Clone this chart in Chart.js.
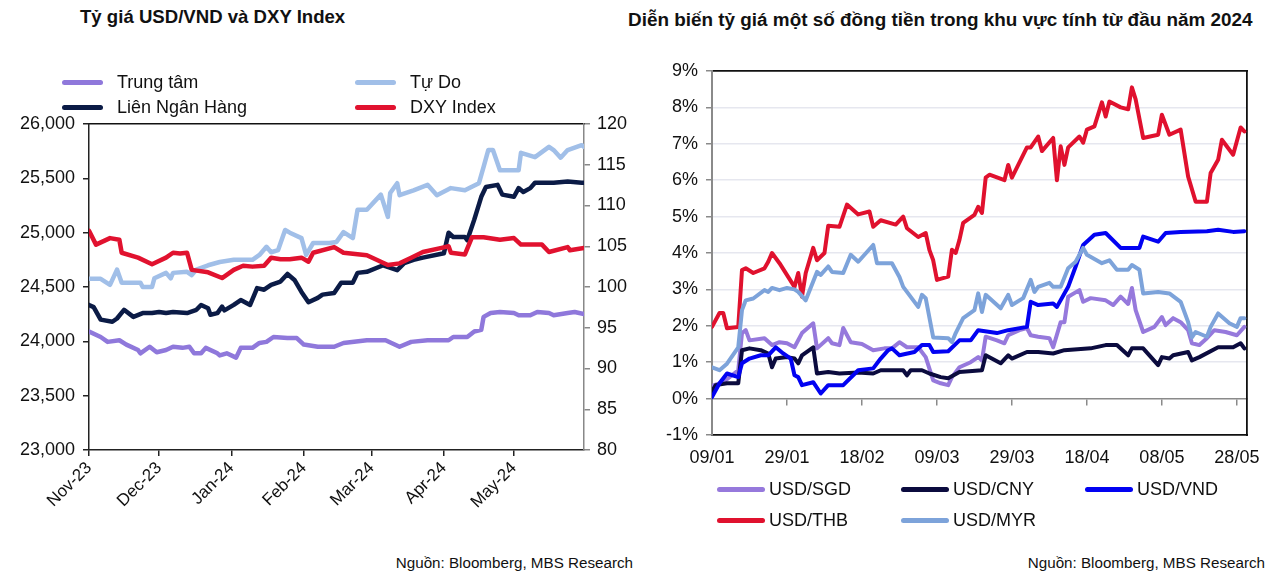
<!DOCTYPE html>
<html>
<head>
<meta charset="utf-8">
<script src="https://cdn.jsdelivr.net/npm/chart.js@4.4.1/dist/chart.umd.min.js"></script>
<style>
  html,body{margin:0;padding:0;background:#fff;width:1280px;height:575px;overflow:hidden;font-family:'Liberation Sans',Arial,sans-serif;color:#111;}
  canvas{position:absolute;top:0;}
  .title{position:absolute;font-weight:bold;white-space:nowrap;line-height:22px;}
  .src{position:absolute;font-size:15.2px;white-space:nowrap;line-height:20px;text-align:right;}
  .leg{position:absolute;display:grid;}
  .item{display:flex;align-items:center;font-size:18px;white-space:nowrap;}
  .sw{display:inline-block;height:5px;border-radius:3px;}
</style>
</head>
<body>
<div class="title" style="left:80px;top:6px;font-size:18.6px;">Tỷ giá USD/VND và DXY Index</div>
<div class="title" style="left:628px;top:9px;font-size:18.9px;">Diễn biến tỷ giá một số đồng tiền trong khu vực tính từ đầu năm 2024</div>
<canvas id="cL" width="640" height="540" style="left:0;"></canvas>
<canvas id="cR" width="640" height="540" style="left:640px;"></canvas>
<div id="legL" class="leg" style="left:62px;top:70px;grid-template-columns:293px 293px;grid-auto-rows:25px;"></div>
<div id="legR" class="leg" style="left:717px;top:474px;grid-template-columns:184px 184px 184px;grid-auto-rows:31px;"></div>
<div class="src" style="right:647px;top:553px;">Nguồn: Bloomberg, MBS Research</div>
<div class="src" style="right:15px;top:553px;">Nguồn: Bloomberg, MBS Research</div>
<script>
// ---------- Left chart: USD/VND rates and DXY (x = days since 01/11/2023) ----------
const monthTickDays = [0, 30, 61, 92, 121, 152, 182];
const monthLabels = ['Nov-23', 'Dec-23', 'Jan-24', 'Feb-24', 'Mar-24', 'Apr-24', 'May-24'];

const trungTamDays = [0,5,8,13,16,21,22,26,29,33,36,40,43,45,48,50,55,56,59,63,65,70,73,76,79,85,89,92,98,105,109,119,127,133,138,145,154,156,162,165,168,169,172,176,182,184,189,192,197,199,205,208,212];
const trungTam = [24090,24040,23995,24010,23970,23920,23890,23950,23900,23920,23950,23940,23950,23890,23890,23940,23890,23870,23890,23850,23940,23940,23985,23995,24040,24030,24030,23970,23950,23950,23985,24010,24010,23950,23995,24010,24010,24040,24040,24090,24105,24225,24260,24270,24260,24240,24240,24270,24260,24240,24260,24270,24250];

const tuDoDays = [0,5,9,12,14,22,23,27,28,33,35,36,42,44,46,51,56,62,70,73,76,78,81,84,86,91,93,96,103,106,109,113,115,119,125,128,129,132,133,139,145,149,155,161,167,169,171,173,176,184,185,191,197,199,202,205,211,212];
const tuDo = [24575,24575,24520,24660,24540,24540,24500,24500,24580,24630,24580,24630,24640,24610,24660,24700,24730,24750,24750,24795,24870,24820,24840,25025,25000,24950,24795,24905,24905,24915,25005,24950,25210,25210,25350,25145,25365,25455,25345,25390,25440,25345,25410,25390,25455,25605,25760,25760,25575,25575,25735,25695,25790,25760,25690,25760,25805,25790];

const lienNHDays = [0,2,5,10,12,15,19,23,27,30,33,36,42,46,48,51,52,55,57,58,62,65,69,72,75,78,82,85,88,91,94,98,100,105,108,113,115,119,126,132,135,139,143,152,154,156,161,162,165,168,170,175,177,182,184,186,189,191,199,205,211,212];
const lienNH = [24335,24315,24200,24180,24210,24290,24225,24260,24260,24270,24260,24270,24260,24290,24335,24305,24245,24260,24320,24285,24335,24380,24335,24490,24475,24520,24550,24620,24565,24455,24360,24400,24430,24445,24540,24540,24630,24640,24700,24655,24720,24750,24770,24810,25000,24960,24960,24930,25120,25330,25420,25440,25350,25330,25410,25375,25410,25460,25460,25470,25460,25460];

const dxyDays = [0,3,9,13,14,21,27,33,36,39,42,44,51,57,62,66,70,75,78,82,86,91,94,96,105,109,119,128,133,138,143,151,154,155,161,164,169,176,182,185,194,197,205,206,212];
const dxy = [106.9,105.2,106.0,105.8,104.2,103.6,102.8,103.6,104.2,104.1,104.2,102.1,101.8,101.1,102.1,102.6,102.5,102.6,103.6,103.4,103.4,103.6,103.1,104.2,104.9,104.2,103.9,102.7,102.9,103.6,104.3,104.8,105.0,104.2,104.0,106.1,106.1,105.8,106.0,105.2,105.2,104.3,104.9,104.5,104.8];

// ---------- Right chart: % change since start of 2024 (x = days since 09/01/2024) ----------
const dayTicks = [0, 20, 40, 60, 80, 100, 120, 140];
const dayLabels = ['09/01', '29/01', '18/02', '09/03', '29/03', '18/04', '08/05', '28/05'];

const sgdDays = [0,3,7,8,9,10,14,16,18,20,22,24,27,28,31,32,34,35,37,40,43,46,48,50,52,55,57,59,61,63,64,66,69,71,72,73,76,78,79,82,84,85,87,90,91,93,94,95,98,99,101,105,107,109,111,112,113,115,118,120,121,123,125,127,128,130,132,134,137,140,142];
const sgd = [0.35,0.45,0.78,1.8,1.88,1.6,1.66,1.47,1.55,1.52,1.41,1.8,2.07,1.38,1.66,1.52,1.47,1.94,1.55,1.5,1.33,1.38,1.38,1.55,1.41,1.41,1.14,0.5,0.42,0.37,0.59,0.86,1.0,1.14,1.05,1.7,1.6,1.52,1.74,1.88,1.94,1.74,1.7,1.66,1.41,2.1,2.1,2.8,2.98,2.66,2.76,2.7,2.57,2.8,2.6,3.04,2.43,1.83,1.97,2.24,2.02,2.21,2.1,1.88,1.52,1.47,1.66,1.88,1.83,1.74,1.97];

const cnyDays = [0,1,4,7,8,10,13,15,16,17,20,22,23,24,27,28,31,34,39,43,45,51,52,53,56,58,61,63,66,72,73,77,79,80,84,87,91,94,101,105,108,111,112,115,119,120,122,123,127,128,130,135,139,141,142];
const cny = [0.2,0.37,0.42,0.42,1.33,1.38,1.33,1.24,0.86,1.1,1.14,1.1,0.97,1.19,1.41,0.69,0.73,0.69,0.72,0.69,0.78,0.78,0.64,0.78,0.78,0.69,0.59,0.56,0.73,0.78,1.19,0.97,1.19,1.1,1.28,1.28,1.24,1.33,1.38,1.47,1.47,1.19,1.38,1.38,0.92,1.14,1.1,1.19,1.28,1.05,1.14,1.41,1.41,1.52,1.38];

const vndDays = [0,2,4,7,8,10,13,15,17,19,21,22,23,24,27,29,31,35,39,43,45,47,48,50,54,56,58,59,63,66,69,71,76,79,84,85,87,91,92,95,97,99,102,105,109,114,115,119,121,125,132,135,139,142];
const vnd = [0.04,0.42,0.69,0.59,0.97,1.1,1.19,1.19,1.41,1.24,1.1,0.64,0.59,0.37,0.45,0.14,0.37,0.37,0.78,0.83,1.1,1.33,1.38,1.19,1.28,1.47,1.47,1.28,1.3,1.6,1.6,1.88,1.8,1.88,1.97,2.66,2.57,2.61,2.52,3.07,3.63,4.22,4.5,4.55,4.14,4.14,4.45,4.31,4.55,4.58,4.6,4.64,4.58,4.6];

const thbDays = [0,2,3,4,7,8,9,11,14,15,16,18,22,23,24,25,27,28,30,31,34,36,39,42,43,45,49,51,52,55,57,58,59,60,63,64,65,66,67,70,71,72,73,74,78,79,80,84,85,87,88,91,92,93,94,95,98,99,100,102,104,105,106,109,111,112,113,115,119,120,122,125,127,129,132,133,135,136,139,141,142];
const thb = [1.97,2.35,2.35,1.93,1.97,3.53,3.58,3.45,3.58,3.76,4.0,3.72,3.07,3.45,2.8,3.45,4.14,3.8,4.0,4.75,4.72,5.33,5.06,5.14,4.72,4.9,4.78,5.0,4.68,4.44,4.55,4.08,3.8,3.26,3.35,4.09,4.0,4.36,4.83,5.05,5.27,5.1,6.07,6.15,6.0,6.42,6.07,6.9,6.9,7.2,6.8,7.16,6.0,6.93,6.42,6.9,7.2,7.03,7.39,7.48,8.14,7.75,8.16,8.0,7.95,8.55,8.22,7.16,7.25,7.8,7.25,7.39,6.1,5.41,5.41,6.2,6.56,7.11,6.7,7.45,7.34];

const myrDays = [0,2,4,7,8,9,11,14,15,16,18,20,22,23,25,28,29,31,32,35,37,39,43,44,48,50,51,55,56,57,59,63,64,65,67,70,71,72,73,77,79,80,83,85,86,87,90,91,93,95,97,99,100,104,106,108,111,112,114,115,119,122,125,127,128,129,132,133,135,138,140,141,142];
const myr = [0.86,0.78,0.96,1.41,2.43,2.7,2.75,2.98,2.93,3.04,2.98,3.04,3.0,2.93,2.7,3.48,3.4,3.63,3.48,3.45,3.95,3.76,4.22,3.72,3.72,3.34,3.07,2.52,2.85,2.76,1.68,1.66,1.55,1.8,2.21,2.43,2.89,2.38,2.85,2.48,2.85,2.57,2.76,3.26,2.93,3.07,3.18,3.07,3.07,3.58,3.76,4.14,3.95,3.72,3.8,3.54,3.54,3.67,3.54,2.89,2.93,2.89,2.66,2.1,1.68,1.83,1.7,1.97,2.34,2.07,1.97,2.21,2.21];

// ---------- helpers ----------
function pts(days, vals) {
  const n = Math.min(days.length, vals.length);
  const out = [];
  for (let i = 0; i < n; i++) out.push({ x: days[i], y: vals[i] });
  return out;
}
Chart.defaults.font.family = "'Liberation Sans', Arial, sans-serif";
Chart.defaults.color = '#111';

function buildLegend(chart, el, swW, gap) {
  chart.data.datasets.forEach(ds => {
    const it = document.createElement('div');
    it.className = 'item';
    const sw = document.createElement('span');
    sw.className = 'sw';
    sw.style.width = swW + 'px';
    sw.style.background = ds.borderColor;
    sw.style.marginRight = gap + 'px';
    const tx = document.createElement('span');
    tx.textContent = ds.label;
    it.appendChild(sw); it.appendChild(tx);
    el.appendChild(it);
  });
}

function lineEl(w) {
  return { point: { radius: 0 }, line: { borderWidth: w, tension: 0, borderJoinStyle: 'round', borderCapStyle: 'round' } };
}

// ---------- Left chart ----------
const leftChart = new Chart(document.getElementById('cL'), {
  type: 'line',
  data: {
    datasets: [
      { label: 'Trung tâm', data: pts(trungTamDays, trungTam), borderColor: '#8F78DB', yAxisID: 'y', order: 4 },
      { label: 'Tự Do', data: pts(tuDoDays, tuDo), borderColor: '#A1BFE8', yAxisID: 'y', order: 3 },
      { label: 'Liên Ngân Hàng', data: pts(lienNHDays, lienNH), borderColor: '#0B1B46', yAxisID: 'y', order: 2 },
      { label: 'DXY Index', data: pts(dxyDays, dxy), borderColor: '#E1122F', yAxisID: 'y2', order: 1 }
    ]
  },
  options: {
    responsive: false, animation: false, devicePixelRatio: 1,
    elements: lineEl(4.5),
    layout: { padding: { top: 124, left: 0, right: 0, bottom: 0 } },
    plugins: { legend: { display: false }, tooltip: { enabled: false } },
    scales: {
      x: {
        type: 'linear', position: 'bottom', min: 0, max: 212,
        afterBuildTicks: s => { s.ticks = monthTickDays.map(v => ({ value: v })); },
        ticks: { callback: (v, i) => monthLabels[i], autoSkip: false, minRotation: 45, maxRotation: 45, font: { size: 17 }, color: '#111', padding: 2 },
        grid: { drawOnChartArea: false, drawTicks: true, tickLength: 6, color: '#222', lineWidth: 1.5 },
        border: { color: '#222', width: 1.5 },
        afterFit: s => { s.height = 90; }
      },
      xTop: {
        type: 'linear', position: 'top', min: 0, max: 212,
        ticks: { display: false }, grid: { display: false, drawTicks: false },
        border: { color: '#111', width: 1.5 },
        afterFit: s => { s.height = 0; }
      },
      y: {
        position: 'left', min: 23000, max: 26000,
        ticks: { stepSize: 500, callback: v => v.toLocaleString('en-US'), font: { size: 18 }, color: '#111', padding: 8 },
        grid: { drawOnChartArea: false, tickLength: 6, color: '#222', lineWidth: 1.5 },
        border: { color: '#222', width: 1.5 },
        afterFit: s => { s.width = 89; }
      },
      y2: {
        position: 'right', min: 80, max: 120,
        ticks: { stepSize: 5, font: { size: 18 }, color: '#111', padding: 7 },
        grid: { drawOnChartArea: false, tickLength: 6, color: '#888', lineWidth: 1.5 },
        border: { color: '#888', width: 1.5 },
        afterFit: s => { s.width = 56; }
      }
    }
  }
});
buildLegend(leftChart, document.getElementById('legL'), 41, 14);

// ---------- Right chart ----------
const xMaxR = 142.7;
const rightChart = new Chart(document.getElementById('cR'), {
  type: 'line',
  data: {
    datasets: [
      { label: 'USD/SGD', data: pts(sgdDays, sgd), borderColor: '#9679DC', order: 5 },
      { label: 'USD/CNY', data: pts(cnyDays, cny), borderColor: '#0B0B3E', order: 4 },
      { label: 'USD/VND', data: pts(vndDays, vnd), borderColor: '#0202F2', order: 3 },
      { label: 'USD/THB', data: pts(thbDays, thb), borderColor: '#E0112E', order: 2 },
      { label: 'USD/MYR', data: pts(myrDays, myr), borderColor: '#7DA3DA', order: 1 }
    ]
  },
  options: {
    responsive: false, animation: false, devicePixelRatio: 1,
    elements: lineEl(4),
    layout: { padding: { top: 71, left: 0, right: 33, bottom: 0 } },
    plugins: { legend: { display: false }, tooltip: { enabled: false } },
    scales: {
      x: {
        type: 'linear', position: 'bottom', min: 0, max: xMaxR,
        afterBuildTicks: s => { s.ticks = dayTicks.map(v => ({ value: v })); },
        ticks: { callback: (v, i) => dayLabels[i], autoSkip: false, maxRotation: 0, minRotation: 0, font: { size: 18 }, color: '#111', padding: 12 },
        grid: { display: false, drawTicks: false },
        border: { color: '#111', width: 1.8 },
        afterFit: s => { s.height = 105; }
      },
      x0: {
        type: 'linear', position: { y: 0 }, min: 0, max: xMaxR,
        afterBuildTicks: s => { s.ticks = dayTicks.map(v => ({ value: v })); },
        ticks: { display: false },
        grid: { drawOnChartArea: false, drawTicks: true, tickLength: 6, color: '#8a8a8a', lineWidth: 1.5 },
        border: { color: '#8a8a8a', width: 1.5 }
      },
      xTop: {
        type: 'linear', position: 'top', min: 0, max: xMaxR,
        ticks: { display: false }, grid: { display: false, drawTicks: false },
        border: { color: '#111', width: 1.8 },
        afterFit: s => { s.height = 0; }
      },
      y: {
        position: 'left', min: -1, max: 9,
        ticks: { stepSize: 1, callback: v => v + '%', font: { size: 18 }, color: '#111', padding: 8 },
        grid: {
          color: c => (c.tick && (c.tick.value === 9 || c.tick.value === -1 || c.tick.value === 0)) ? 'rgba(0,0,0,0)' : '#E6E7EF',
          lineWidth: 1.5, tickColor: '#8a8a8a', tickLength: 6
        },
        border: { color: '#8a8a8a', width: 2 },
        afterFit: s => { s.width = 72; }
      },
      yR: {
        position: 'right', min: -1, max: 9,
        ticks: { display: false }, grid: { display: false, drawTicks: false },
        border: { color: '#111', width: 1.8 },
        afterFit: s => { s.width = 0; }
      }
    }
  }
});
buildLegend(rightChart, document.getElementById('legR'), 48, 4);
</script>
</body>
</html>
